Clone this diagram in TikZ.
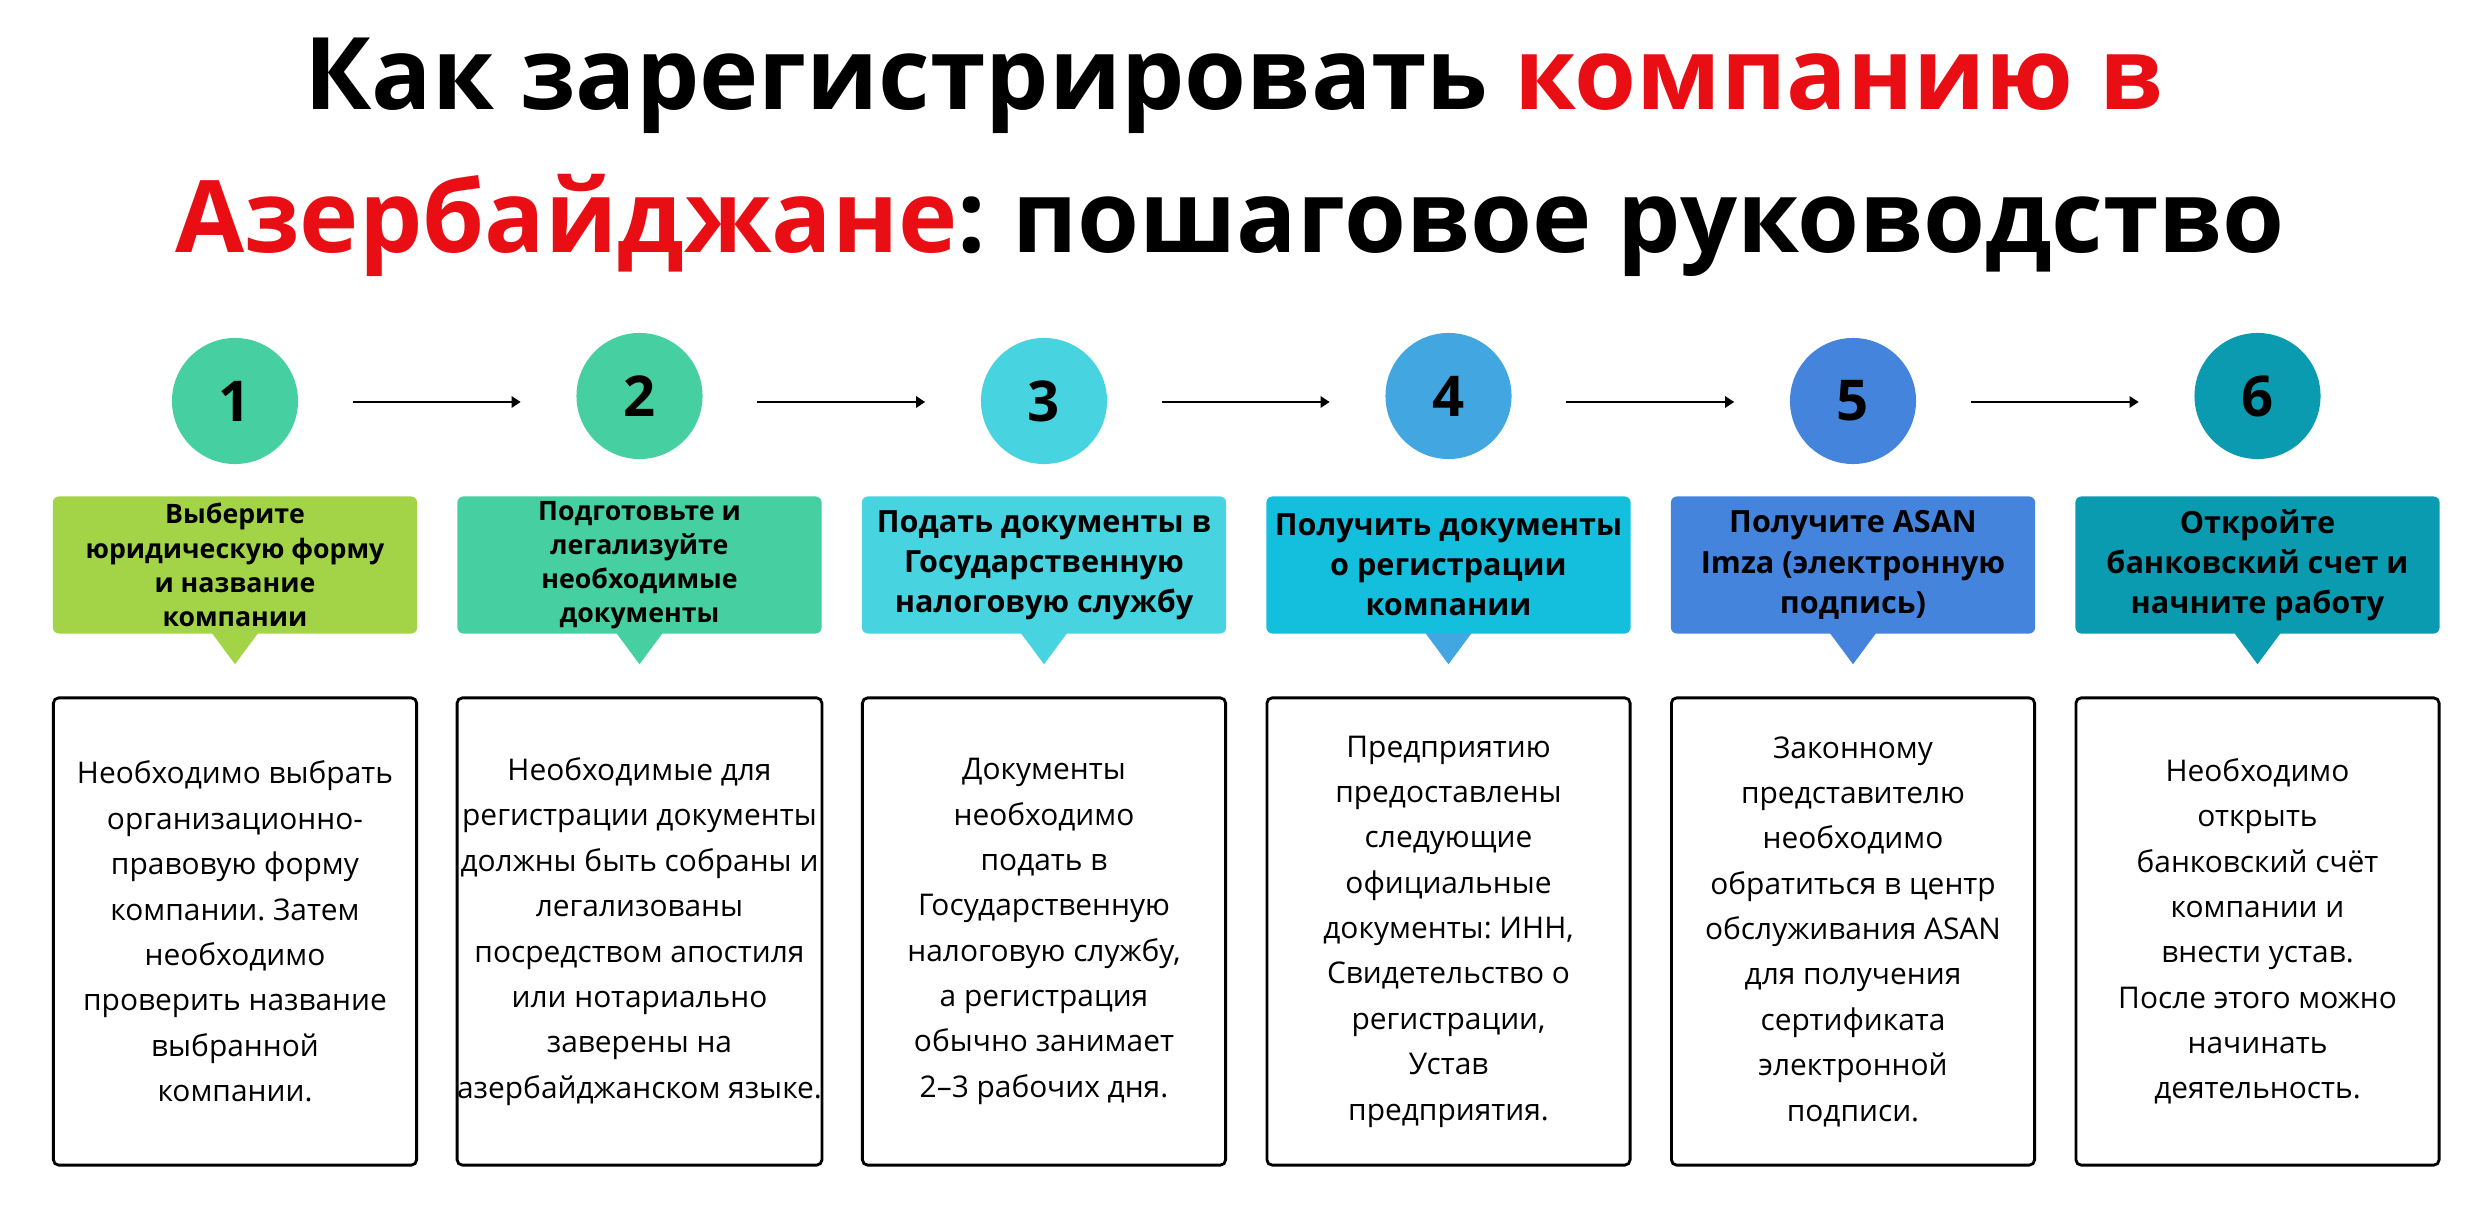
\documentclass[tikz,border=0pt]{standalone}
\usepackage{fontspec}
\setmainfont{Open Sans}
\usetikzlibrary{arrows.meta}
\definecolor{mint}{RGB}{70,207,160}
\definecolor{lime}{RGB}{163,212,72}
\definecolor{aqua}{RGB}{72,211,224}
\definecolor{sky}{RGB}{66,166,224}
\definecolor{cyanbox}{RGB}{20,191,222}
\definecolor{royal}{RGB}{69,132,220}
\definecolor{deepteal}{RGB}{11,155,176}
\definecolor{titlered}{RGB}{232,14,20}
\frenchspacing

\begin{document}
\begin{tikzpicture}[x=0.01cm, y=-0.01cm,
  num/.style={circle, minimum size=1.26cm, inner sep=0pt, font=\fontsize{16}{16}\selectfont\bfseries},
  headS/.style={rectangle, rounded corners=1.7pt, minimum width=3.64cm, minimum height=1.37cm, inner sep=0pt, align=center, font=\fontsize{7.6}{9.7}\selectfont\bfseries},
  headL/.style={headS, font=\fontsize{8.7}{11.4}\selectfont\bfseries},
  txtbox/.style={draw, line width=0.8pt, rounded corners=1.5pt, minimum width=3.63cm, minimum height=4.67cm, inner sep=0pt, align=center, font=\fontsize{8.5}{12.9}\selectfont},
  arr/.style={-{Triangle[length=2.6pt,width=3.2pt]}, line width=0.8pt, shorten <=0.54cm, shorten >=0.55cm},
  ttl/.style={anchor=base, font=\fontsize{28.5}{28.5}\selectfont\bfseries}]
\useasboundingbox (0,0) rectangle (2487,1225);

% title
\node[ttl] (t1) at (1234,110) {Как зарегистрировать \textcolor{titlered}{компанию в}};
\node[ttl] (t2) at (1230,253) {\textcolor{titlered}{Азербайджане}: пошаговое руководство};

% steps: circle, header callout, text box
\foreach \i/\x/\y/\cc/\hc/\tc/\hst/\hd/\bd in {
 1/235/401/mint/lime/lime/headS/{Выберите\\юридическую форму\\и название\\компании}/{Необходимо выбрать\\организационно-\\правовую форму\\компании. Затем\\необходимо\\проверить название\\выбранной\\компании.},
 2/639.5/396/mint/mint/mint/headS/{Подготовьте и\\легализуйте\\необходимые\\документы}/{Необходимые для\\регистрации документы\\должны быть собраны и\\легализованы\\посредством апостиля\\или нотариально\\заверены на\\азербайджанском языке.},
 3/1044/401/aqua/aqua/aqua/headL/{Подать документы в\\Государственную\\налоговую службу}/{Документы\\необходимо\\подать в\\Государственную\\налоговую службу,\\а регистрация\\обычно занимает\\2–3 рабочих дня.},
 4/1448.5/396/sky/cyanbox/sky/headL/{Получить документы\\о регистрации\\компании}/{Предприятию\\предоставлены\\следующие\\официальные\\документы: ИНН,\\Свидетельство о\\регистрации,\\Устав\\предприятия.},
 5/1853/401/royal/royal/royal/headL/{Получите ASAN\\Imza (электронную\\подпись)}/{Законному\\представителю\\необходимо\\обратиться в центр\\обслуживания ASAN\\для получения\\сертификата\\электронной\\подписи.},
 6/2257.5/396/deepteal/deepteal/deepteal/headL/{Откройте\\банковский счет и\\начните работу}/{Необходимо\\открыть\\банковский счёт\\компании и\\внести устав.\\После этого можно\\начинать\\деятельность.}}
{
  \node[num, fill=\cc] (c\i) at (\x,\y) {\i};
  \node[\hst, fill=\hc] (h\i) at (\x,565) {\hd};
  \fill[\tc] ([shift={(-0.23cm,0.01cm)}]h\i.south) -- ([shift={(0.23cm,0.01cm)}]h\i.south) -- ([yshift=-0.3cm]h\i.south) -- cycle;
  \node[txtbox] (b\i) at (\x,931.5) {\bd};
}

% arrows between the circles
\coordinate (axis) at (0,402);
\foreach \i/\j in {1/2,2/3,3/4,4/5,5/6}{\draw[arr] (c\i.east |- axis) -- (c\j.west |- axis);}
\end{tikzpicture}
\end{document}
